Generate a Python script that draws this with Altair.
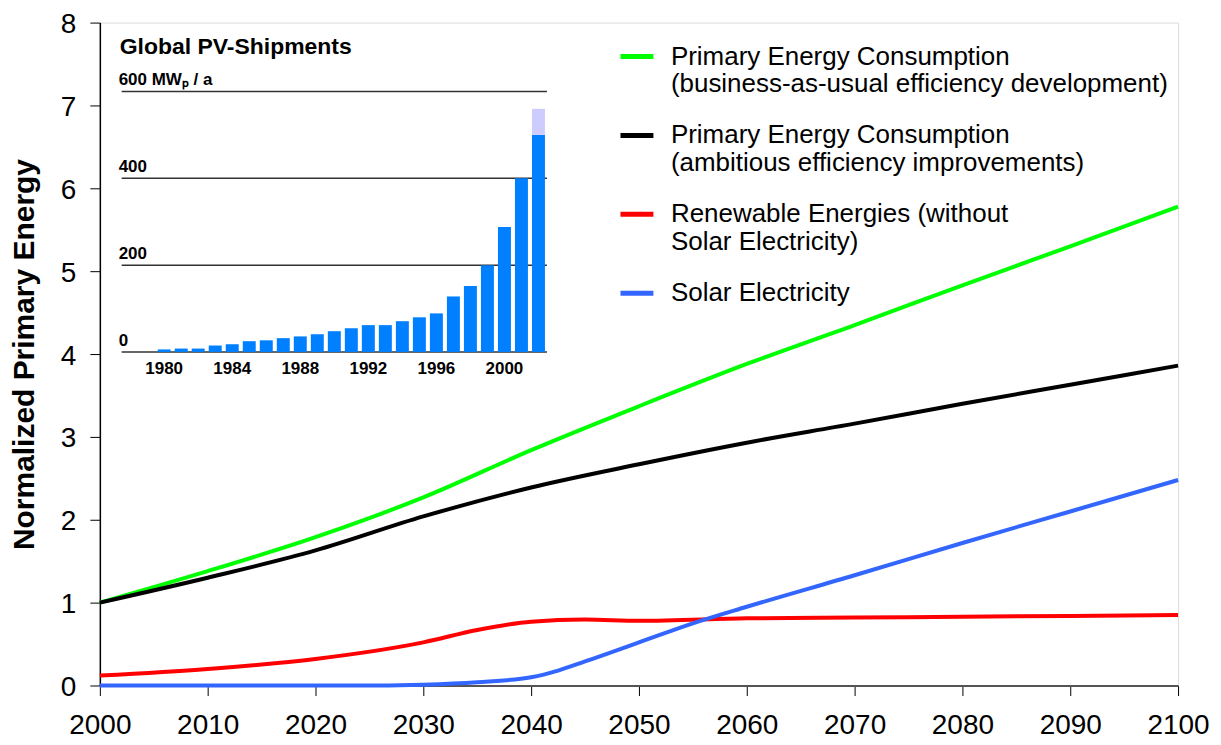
import altair as alt
import pandas as pd

# ---------------- main chart data ----------------
series_names = [
    "Primary Energy Consumption|(business-as-usual efficiency development)",
    "Primary Energy Consumption|(ambitious efficiency improvements)",
    "Renewable Energies (without|Solar Electricity)",
    "Solar Electricity",
]
series_colors = ["#00FF00", "#000000", "#FF0000", "#3366FF"]

green_years = [2000, 2010, 2020, 2030, 2040, 2050, 2060, 2070, 2080, 2090, 2100]
green_vals = [1.00, 1.38, 1.79, 2.27, 2.84, 3.37, 3.88, 4.35, 4.83, 5.30, 5.78]

black_years = [2000, 2010, 2020, 2030, 2040, 2050, 2060, 2070, 2080, 2090, 2100]
black_vals = [1.00, 1.30, 1.63, 2.04, 2.39, 2.67, 2.93, 3.16, 3.40, 3.63, 3.86]

red_years = [2000, 2010, 2020, 2030, 2035, 2040, 2045, 2050, 2060, 2070, 2080, 2090, 2100]
red_vals = [0.12, 0.20, 0.32, 0.52, 0.67, 0.77, 0.795, 0.78, 0.81, 0.82, 0.83, 0.84, 0.85]

blue_years = [2000, 2010, 2020, 2026, 2030, 2035, 2040, 2042.5, 2045, 2050, 2055, 2060, 2070, 2080, 2090, 2100]
blue_vals = [0.0, 0.0, 0.0, 0.0, 0.01, 0.04, 0.10, 0.18, 0.29, 0.52, 0.75, 0.95, 1.33, 1.72, 2.10, 2.48]

x_ticks = [2000, 2010, 2020, 2030, 2040, 2050, 2060, 2070, 2080, 2090, 2100]
y_ticks = [0, 1, 2, 3, 4, 5, 6, 7, 8]

# ---------------- inset data ----------------
pv_years = [1980, 1981, 1982, 1983, 1984, 1985, 1986, 1987, 1988, 1989, 1990, 1991,
            1992, 1993, 1994, 1995, 1996, 1997, 1998, 1999, 2000, 2001, 2002]
pv_vals = [6, 8, 8, 15, 18, 25, 27, 32, 36, 41, 48, 55,
           62, 62, 71, 80, 89, 128, 152, 200, 288, 400, 500]
pv_light_years = [2002]
pv_light_base = [500]
pv_light_top = [560]
inset_grid_vals = [0, 200, 400, 600]
inset_grid_labels = ["0", "200", "400", "600 MW\u209a / a"]
inset_x_labels = [1980, 1984, 1988, 1992, 1996, 2000]
inset_title = "Global PV-Shipments"

# ---------------- layout ----------------
W, H = 1080, 664
FONT = "Liberation Sans"

# inset placement inside the plot area (pixels)
in_left_px = 17.0          # left edge of inset span from plot left
in_px_per_year = 17.2
in_zero_px = 334.0         # inset 0-line above plot bottom
in_px_per_unit = 261.0 / 600.0
span_start = pv_years[0] - 2.5
span_end = pv_years[-1] + 0.5
ix0 = span_start - in_left_px / in_px_per_year
ix1 = ix0 + W / in_px_per_year
iy0 = -in_zero_px / in_px_per_unit
iy1 = iy0 + H / in_px_per_unit

# ---------------- build frames ----------------
rows = []
for name, yrs, vals in zip(series_names,
                           [green_years, black_years, red_years, blue_years],
                           [green_vals, black_vals, red_vals, blue_vals]):
    for yr, v in zip(yrs, vals):
        rows.append({"series": name, "year": yr, "value": v})
line_df = pd.DataFrame(rows)

lines = alt.Chart(line_df).mark_line(strokeWidth=4, interpolate="monotone").encode(
    x=alt.X("year:Q",
            scale=alt.Scale(domain=[2000, 2100], nice=False, zero=False),
            axis=alt.Axis(values=x_ticks, format="d", title=None, grid=False,
                          labelFontSize=28, labelFont=FONT, labelColor="#000000",
                          labelPadding=16, tickSize=10, tickColor="#000000",
                          domainColor="#555555", domainWidth=2, labelFlush=False)),
    y=alt.Y("value:Q",
            scale=alt.Scale(domain=[0, 8], nice=False),
            axis=alt.Axis(values=y_ticks, title="Normalized Primary Energy", grid=False,
                          labelFontSize=28, labelFont=FONT, labelColor="#000000",
                          labelPadding=14, tickSize=10, tickColor="#000000",
                          labelOffset=2, labelFlush=False,
                          domainColor="#000000", domainWidth=1.5,
                          titleFontSize=30, titleFont=FONT, titleFontWeight="bold",
                          titleColor="#000000", titlePadding=21)),
    color=alt.Color("series:N",
                    scale=alt.Scale(domain=series_names, range=series_colors),
                    sort=series_names,
                    legend=alt.Legend(orient="none", legendX=519, legendY=15, title=None,
                                      symbolType="stroke", symbolStrokeWidth=5,
                                      symbolSize=1089, labelFontSize=26, labelFont=FONT,
                                      labelColor="#000000", labelLimit=0, labelOffset=15,
                                      rowPadding=19, padding=0,
                                      labelExpr="split(datum.label, '|')")),
    order=alt.Order("year:Q"),
)

ix = lambda f: alt.X(f, scale=alt.Scale(domain=[ix0, ix1], nice=False, zero=False), axis=None)
iy = lambda f: alt.Y(f, scale=alt.Scale(domain=[iy0, iy1], nice=False, zero=False), axis=None)

grid_df = pd.DataFrame({"v": inset_grid_vals, "x0": span_start, "x1": span_end,
                        "label": inset_grid_labels})
bars_df = pd.DataFrame({"year": pv_years, "v": pv_vals, "base": [0] * len(pv_years)})
light_df = pd.DataFrame({"year": pv_light_years, "v": pv_light_top, "base": pv_light_base})
xlab_df = pd.DataFrame({"year": inset_x_labels, "v": [0] * len(inset_x_labels),
                        "label": [str(y) for y in inset_x_labels]})
title_df = pd.DataFrame({"x0": [span_start], "v": [inset_grid_vals[-1]], "label": [inset_title]})

grid = alt.Chart(grid_df).mark_rule(color="#333333", strokeWidth=1.5).encode(
    x=ix("x0:Q"), x2="x1:Q", y=iy("v:Q"))
bars = alt.Chart(bars_df).mark_bar(size=13, color="#0080FF").encode(
    x=ix("year:Q"), y=iy("v:Q"), y2="base:Q")
light = alt.Chart(light_df).mark_bar(size=13, color="#CCCCFF").encode(
    x=ix("year:Q"), y=iy("v:Q"), y2="base:Q")
glabels = alt.Chart(grid_df).mark_text(align="left", baseline="alphabetic", dy=-6, dx=-3,
                                       fontSize=17, fontWeight="bold", font=FONT,
                                       color="#000000").encode(
    x=ix("x0:Q"), y=iy("v:Q"), text="label:N")
xlabels = alt.Chart(xlab_df).mark_text(align="center", baseline="top", dy=9,
                                       fontSize=17, fontWeight="bold", font=FONT,
                                       color="#000000").encode(
    x=ix("year:Q"), y=iy("v:Q"), text="label:N")
ititle = alt.Chart(title_df).mark_text(align="left", baseline="alphabetic", dy=-38, dx=-2,
                                       fontSize=23, fontWeight="bold", font=FONT,
                                       color="#000000").encode(
    x=ix("x0:Q"), y=iy("v:Q"), text="label:N")

inset = alt.layer(grid, bars, light, glabels, xlabels, ititle)

chart = alt.layer(lines, inset).resolve_scale(x="independent", y="independent").properties(
    width=W, height=H,
    autosize=alt.AutoSizeParams(type="none"),
    padding={"left": 92, "top": 14, "right": 35, "bottom": 59},
).configure_view(stroke="#999999", strokeWidth=2).configure(font=FONT, background="white")

chart.save("out.html", embed_options={"renderer": "svg", "actions": False})
